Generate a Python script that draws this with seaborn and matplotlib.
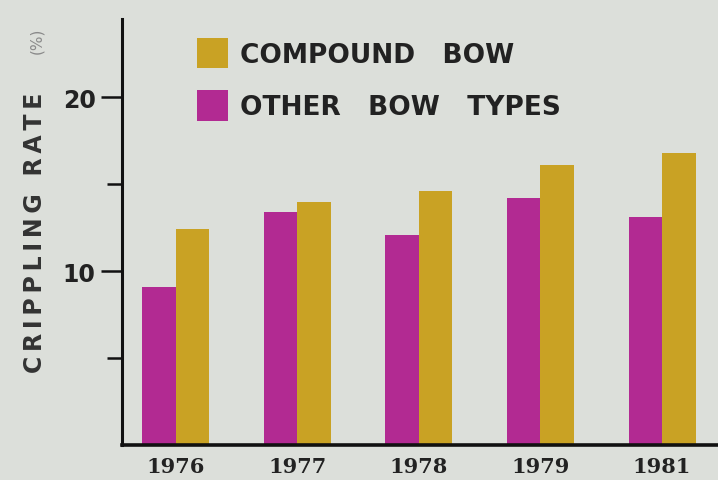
import matplotlib
matplotlib.use("Agg")
import matplotlib.pyplot as plt
import seaborn as sns
import pandas as pd

years = ["1976", "1977", "1978", "1979", "1981"]
other_bow = [9.1, 13.4, 12.1, 14.2, 13.1]
compound_bow = [12.4, 14.0, 14.6, 16.1, 16.8]
series_names = ["OTHER   BOW   TYPES", "COMPOUND   BOW"]
yticks_major = [10, 20]
yticks_minor = [5, 15]
ylabel_text = "CRIPPLING RATE"

bg = "#dcdfda"
purple = "#b22a92"
gold = "#c9a224"

df = pd.DataFrame({
    "year": years * 2,
    "rate": other_bow + compound_bow,
    "type": [series_names[0]] * len(years) + [series_names[1]] * len(years),
})

sns.set_theme(style="white")
plt.rcParams["font.family"] = ["DejaVu Sans"]

fig = plt.figure(figsize=(7.18, 4.81), dpi=100, facecolor=bg)
ax = fig.add_axes([0.170, 0.073, 0.83, 0.885])
ax.set_facecolor(bg)

sns.barplot(data=df, x="year", y="rate", hue="type", hue_order=series_names,
            palette={series_names[0]: purple, series_names[1]: gold},
            width=0.55, saturation=1, ax=ax, legend=True, linewidth=0)

ax.set_xlim(-0.44, 4.46)
ax.set_ylim(0, 24.5)

for s in ["top", "right"]:
    ax.spines[s].set_visible(False)
ax.spines["left"].set_linewidth(2.2)
ax.spines["bottom"].set_linewidth(2.6)
ax.spines["left"].set_color("#111111")
ax.spines["bottom"].set_color("#111111")

ax.set_yticks(yticks_major)
ax.set_yticks(yticks_minor, minor=True)
ax.set_yticklabels([str(v) for v in yticks_major], fontsize=17, fontweight="bold", color="#222222")
ax.tick_params(axis="y", which="major", direction="out", length=15, width=1.8, color="#111111", left=True, pad=4)
ax.tick_params(axis="y", which="minor", direction="out", length=11, width=1.8, color="#111111", left=True)
ax.tick_params(axis="x", length=0, pad=8)
for lab in ax.get_xticklabels():
    lab.set_fontfamily("DejaVu Serif")
    lab.set_fontweight("bold")
    lab.set_fontsize(15)
    lab.set_color("#222222")

ax.set_xlabel("")
ax.set_ylabel("")
spaced = "\u2009".join(ylabel_text)
fig.text(0.049, 0.515, spaced, rotation=90, ha="center", va="center",
         fontsize=17, fontweight="bold", color="#333333")
fig.text(0.051, 0.915, "(%)", rotation=90, ha="center", va="center",
         fontsize=11, color="#8a8a8a")

handles, labels = ax.get_legend_handles_labels()
leg = ax.legend(handles[::-1], labels[::-1], loc="upper left",
                bbox_to_anchor=(0.126, 0.957), frameon=False,
                prop={"weight": "bold", "size": 19},
                handlelength=1.18, handleheight=1.41, handletextpad=0.45,
                labelspacing=0.84, borderaxespad=0, borderpad=0)
for t in leg.get_texts():
    t.set_color("#222222")

fig.savefig("out.png", dpi=100, facecolor=bg)
